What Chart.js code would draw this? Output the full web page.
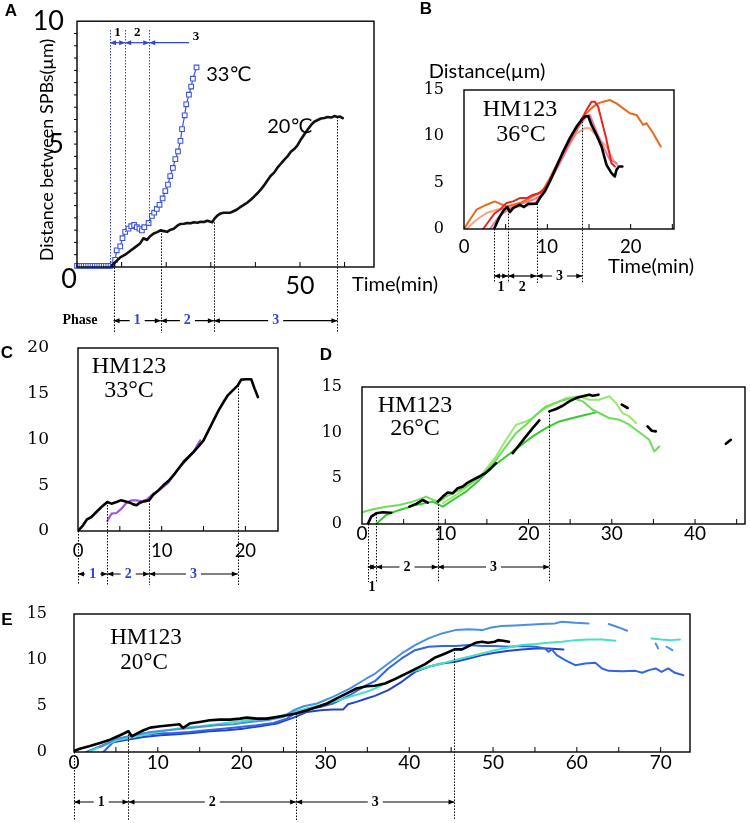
<!DOCTYPE html>
<html>
<head>
<meta charset="utf-8">
<script src="https://cdn.jsdelivr.net/npm/chart.js@4.4.1/dist/chart.umd.min.js"></script>
<style>
body { margin: 0; background: #fff; }
#wrap { position: relative; width: 750px; height: 823px; }
#wrap canvas { position: absolute; left: 0; top: 0; }
</style>
</head>
<body>
<div id="wrap">
  <canvas id="cA" width="750" height="823"></canvas>
  <canvas id="cB" width="750" height="823"></canvas>
  <canvas id="cC" width="750" height="823"></canvas>
  <canvas id="cD" width="750" height="823"></canvas>
  <canvas id="cE" width="750" height="823"></canvas>
</div>
<script>
// ---- panel A : distance between SPBs, 33C vs 20C  [min, um]
var a33 = [[0,0.05],[0.5,0.05],[1,0.05],[1.5,0.05],[2,0.05],[2.5,0.05],[3,0.05],[3.5,0.05],[4,0.05],[4.5,0.05],[5,0.05],[5.5,0.05],[6,0.05],[6.5,0.05],[7,0.05],[7.5,0.05],[8,0.1],
  [8.55,0.29],[8.9,0.68],[9.7,0.84],[10.2,1.17],[10.8,1.43],[11.55,1.56],[12.15,1.66],[12.8,1.71],[13.4,1.62],[14.0,1.56],[14.55,1.49],[15.1,1.62],[16.05,1.79],
  [16.8,2.08],[17.3,2.21],[17.9,2.36],[18.5,2.53],[19.2,2.79],[19.8,3.09],[20.4,3.35],[20.9,3.7],[21.5,4.03],[22.05,4.39],[22.65,4.7],[23.2,5.13],[23.55,5.61],
  [24.15,6.17],[24.5,6.62],[25.1,7.01],[25.6,7.34],[26.0,7.66],[26.8,8.12]];
var a20 = [[7.8,0.06],[8.6,0.2],[9.7,0.39],[10.8,0.5],[11.9,0.65],[13.0,0.8],[14.2,0.97],[14.9,1.17],[15.7,1.1],[16.4,1.25],[17.2,1.36],[18.0,1.42],[18.7,1.49],
  [19.5,1.46],[20.2,1.43],[21.0,1.52],[21.7,1.56],[22.5,1.68],[23.2,1.75],[24.0,1.76],[24.7,1.79],[25.5,1.78],[26.2,1.82],[27.0,1.8],[27.7,1.84],[28.5,1.83],
  [29.2,1.88],[30.3,1.82],[30.9,1.98],[31.4,2.08],[32.2,2.18],[32.9,2.21],[34.4,2.21],[35.2,2.28],[35.9,2.34],[36.7,2.45],[37.4,2.53],[38.2,2.62],[38.9,2.73],
  [39.7,2.86],[40.4,2.99],[41.2,3.15],[41.9,3.31],[42.7,3.52],[43.4,3.7],[44.2,3.84],[44.9,4.03],[45.7,4.2],[46.4,4.35],[47.2,4.5],[47.9,4.68],[48.7,4.8],
  [49.4,4.94],[50.2,5.19],[51.0,5.4],[51.7,5.58],[52.5,5.78],[53.2,5.91],[54.0,5.98],[54.7,6.04],[55.5,6.06],[56.2,6.1],[57.0,6.08],[57.7,6.14],[58.4,6.1],
  [59.0,6.12],[59.6,6.06]];
var aXTicks = [50];
var aYTicks = [5, 10];
var aTop = [7.4, 10.8, 16.2];
var aPhase = [8.2, 18.8, 30.7, 58.4];

// ---- panel B : HM123 36C
var bBlack = [[3.6,0],[4.3,1.36],[4.8,2.08],[5.2,2.37],[5.5,1.83],[5.9,2.26],[6.3,2.44],[6.7,2.62],[7.2,2.37],[7.7,2.73],[8.3,2.73],[8.7,2.73],[9.1,3.34],
  [9.7,4.05],[10.3,5.13],[11.1,6.75],[11.9,8.36],[12.7,9.8],[13.5,11.05],[14.1,11.77],[14.5,12.13],[14.9,12.2],[15.3,11.23],[15.9,10.15],[16.5,8.9],
  [17.1,6.92],[17.7,6.03],[18.1,5.67],[18.3,6.39],[18.6,6.75],[19.0,6.75]];
var bOrange = [[0,0],[0.7,1.0],[1.5,2.08],[2.7,2.62],[3.7,2.98],[4.3,2.73],[5.1,2.44],[5.9,2.62],[6.7,2.8],[7.9,3.34],[8.7,3.7],[9.5,4.23],[10.3,5.49],
  [11.1,6.92],[12.3,8.9],[13.5,10.87],[14.3,12.13],[14.9,12.67],[15.5,13.2],[16.1,13.56],[16.7,13.74],[17.5,13.92],[18.3,13.56],[19.1,13.02],[19.9,12.49],
  [20.7,12.31],[21.5,11.23],[21.9,11.41],[22.7,10.33],[23.6,8.9]];
var bRed = [[2.3,0],[3.1,1.0],[3.7,1.72],[4.3,2.08],[5.1,2.8],[5.9,2.98],[6.7,3.34],[7.5,3.34],[8.3,3.7],[9.1,3.88],[9.9,4.59],[10.7,6.03],[11.5,7.46],
  [12.3,8.9],[13.1,10.33],[13.9,11.41],[14.7,12.85],[15.3,13.74],[15.7,13.74],[16.1,13.2],[16.5,11.77],[17.1,9.62],[17.7,7.1],[18.1,6.75]];
var bPink = [[3.1,0],[3.9,1.0],[4.7,1.72],[5.9,2.44],[7.1,2.8],[8.3,3.16],[9.1,3.52],[10.3,5.13],[11.5,7.1],[12.7,9.26],[13.9,11.23],[14.7,12.13],[15.1,12.31],
  [15.9,10.51],[16.7,8.9],[17.5,7.46],[18.3,7.1]];
var bSalmon = [[0.3,0],[1.5,1.0],[2.7,1.72],[3.9,2.08],[5.1,2.26],[6.7,2.44],[8.3,2.62],[9.5,3.88],[10.7,6.03],[12.3,8.54],[13.5,10.33],[14.5,10.87],[15.1,10.87],
  [16.3,9.62],[17.1,8.9],[17.9,7.46],[18.4,6.92]];
var bXTicks = [0, 10, 20];
var bYTicks = [0, 5, 10, 15];
var bPhase = [3.6, 5.3, 8.7, 14.2];

// ---- panel C : HM123 33C
var cBlack = [[0,0],[0.6,0.62],[1.08,1.28],[1.6,1.53],[2.2,2.08],[2.8,2.62],[3.5,3.17],[4.0,2.99],[4.6,3.17],[5.1,3.35],[5.6,3.24],[6.2,3.1],[6.6,2.91],
  [7.0,2.81],[7.4,3.1],[7.9,3.24],[8.5,3.35],[9.0,3.97],[9.6,4.44],[10.2,4.99],[10.8,5.46],[11.4,6.08],[12.0,6.81],[12.6,7.54],[13.2,8.09],[13.8,8.63],
  [14.4,9.25],[15.0,9.91],[15.6,11.0],[16.2,12.09],[16.8,13.19],[17.4,14.1],[17.9,14.83],[18.5,15.37],[19.1,15.92],[19.5,16.54],[20.1,16.58],[20.7,16.58],
  [21.1,15.56],[21.5,14.64]];
var cPurple = [[3.5,1.09],[4.0,1.89],[4.6,1.97],[5.2,2.44],[5.8,3.1],[6.4,3.35],[7.0,3.35],[7.6,3.24],[8.2,3.42],[9.0,4.08],[9.6,4.37],[10.2,4.81],[10.8,5.28],
  [11.4,6.08],[12.2,6.99],[13.0,7.8],[13.8,8.63],[14.6,9.91]];
var cXTicks = [0, 10, 20];
var cYTicks = [0, 5, 10, 15, 20];
var cPhase = [0, 3.5, 8.5, 19.1];

// ---- panel D : HM123 26C  (null = gap in the trace)
var dBlack = [[0.7,0],[1.1,0.8],[1.7,1.17],[2.5,1.28],[3.5,1.24],[3.6,null],[5.7,1.9],[6.5,2.2],[7.3,2.63],[7.9,2.34],[8.0,null],[9.1,2.45],[9.7,3.0],
  [10.3,3.44],[10.9,3.37],[11.5,3.92],[12.1,4.1],[12.7,4.54],[13.3,4.83],[14.1,5.2],[14.9,5.63],[15.5,6.11],[16.1,6.66],[16.5,null],[18.1,7.76],[18.9,8.67],
  [19.7,9.59],[20.5,10.5],[21.3,11.34],[21.8,null],[22.5,12.33],[23.3,12.59],[24.1,12.95],[24.9,13.43],[25.7,13.79],[26.5,13.98],[27.3,14.16],[27.7,14.05],
  [28.4,14.16],[29,null],[31.2,13.06],[31.9,12.7],[32.5,null],[34.3,10.68],[34.8,10.21],[35.3,10.14],[36,null],[43.7,8.78],[44.3,9.22]];
var dGreen1 = [[0,1.28],[1.3,1.61],[2.9,1.9],[4.5,2.09],[6.1,2.45],[7.7,3.0],[8.5,2.63],[9.3,2.45],[10.1,3.0],[11.3,3.55],[12.5,4.1],[13.7,4.83],[14.9,5.74],
  [16.1,7.03],[17.3,8.49],[18.5,9.95],[19.7,10.87],[20.9,11.96],[22.1,12.88],[23.7,13.43],[25.3,13.79],[26.5,13.43],[27.7,12.51],[28.9,11.96],[29.7,11.6],
  [30.9,11.42],[32.1,10.87],[32.9,10.32],[33.7,9.77],[34.5,9.22],[35.1,7.94],[35.7,8.49]];
var dGreen2 = [[1.7,0],[2.9,0.99],[4.5,1.54],[6.5,2.09],[8.5,2.45],[9.7,1.9],[10.9,2.63],[12.5,3.55],[14.1,4.83],[15.7,6.29],[17.3,7.39],[18.9,8.49],
  [20.5,9.59],[22.1,10.5],[23.7,11.23],[25.3,11.6],[26.9,11.96],[28.1,12.22]];
var dGreen3 = [[9.7,2.27],[11.3,3.18],[12.9,4.28],[14.5,5.56],[16.1,7.39],[17.3,9.22],[18.5,10.87],[19.7,11.23],[20.5,11.6],[21.7,12.51],[22.9,13.06],
  [24.5,13.79],[26.1,13.98],[27.3,13.61],[28.5,13.61],[29.7,13.98],[30.5,13.25],[31.3,12.15],[32.1,11.78],[32.9,11.05]];
var dXTicks = [0, 10, 20, 30, 40];
var dYTicks = [0, 5, 10, 15];
var dPhase = [0.7, 1.7, 9.1, 22.5];

// ---- panel E : HM123 20C
var eBlack = [[0,0.11],[0.7,0.36],[1.9,0.65],[3.1,0.98],[4.3,1.34],[5.5,1.82],[6.5,2.25],[6.9,1.71],[7.5,2.0],[8.3,2.36],[9.1,2.65],[10.3,2.8],[11.5,2.9],
  [12.6,3.01],[13.0,2.61],[13.8,3.09],[15.0,3.27],[16.2,3.45],[17.4,3.52],[18.6,3.52],[19.8,3.63],[20.6,3.74],[21.8,3.63],[23.0,3.63],[24.2,3.81],[25.4,3.99],
  [26.5,4.18],[27.8,4.54],[29.0,4.9],[30.2,5.27],[31.3,5.81],[32.5,6.35],[33.7,6.9],[34.9,7.15],[35.9,7.2],[37.1,7.44],[38.3,7.92],[39.5,8.46],[40.7,9.0],
  [41.9,9.55],[43.1,10.28],[44.3,10.71],[45.4,11.15],[46.3,11.15],[47.1,11.51],[47.9,11.87],[48.7,11.98],[49.4,11.87],[50.2,11.98],[50.6,12.16],[51.2,12.09],
  [51.9,11.98]];
var eLight = [[3.1,0.54],[5.1,1.45],[7.1,1.82],[9.1,2.18],[11.1,2.36],[13.0,2.54],[15.0,2.72],[17.0,2.9],[19.0,3.01],[21.0,3.27],[23.0,3.45],[25.0,3.81],
  [26.2,4.54],[27.4,4.97],[29.0,5.27],[30.9,5.99],[32.9,6.9],[34.9,7.99],[35.9,8.5],[37.5,9.62],[39.1,10.71],[40.7,11.62],[42.3,12.35],[43.9,12.89],
  [45.5,13.25],[47.1,13.33],[48.7,13.25],[49.8,13.54],[51.0,13.69],[52.6,13.76],[54.2,13.83],[55.8,13.91],[57.4,13.98],[58.2,14.16],[59.8,14.05],[61.4,13.98],
  [62.5,null],[63.8,13.91],[65.0,13.54],[66.0,13.18],[67,null],[69.4,11.8],[69.7,11.26],[70.2,null],[70.7,11.44],[71.4,11.07]];
var eMid = [[3.5,0],[4.7,1.09],[6.3,1.63],[7.9,1.82],[9.9,2.0],[11.9,2.07],[13.8,2.18],[15.8,2.36],[17.8,2.54],[19.8,2.72],[21.8,2.9],[23.8,3.16],[25.4,3.63],
  [26.6,4.36],[27.8,4.72],[29.4,4.9],[30.9,5.27],[32.9,6.17],[34.9,7.26],[35.9,7.7],[37.5,9.08],[39.1,10.17],[40.7,11.07],[42.3,11.44],[43.9,11.51],
  [45.5,11.51],[47.1,11.62],[48.7,11.51],[50.2,11.51],[51.9,11.44],[53.4,11.51],[55.1,11.44],[56.2,11.26],[56.6,10.89],[57.0,11.15],[57.6,10.53],[58.6,9.99],
  [59.8,9.44],[61.0,9.62],[62.2,9.69],[63.0,9.08],[63.8,8.82],[65.4,8.79],[67.0,8.82],[67.8,8.61],[68.6,8.9],[69.4,9.08],[70.1,8.71],[70.9,9.08],[71.7,8.61],
  [72.7,8.35]];
var eDark = [[1.5,0],[3.9,0.91],[6.3,1.34],[8.3,1.63],[10.3,1.82],[12.3,1.92],[14.2,2.07],[16.2,2.25],[18.2,2.36],[20.2,2.54],[22.2,2.8],[24.2,3.09],[26.2,3.74],
  [27.8,4.36],[29.4,4.54],[30.9,4.61],[32.1,4.61],[32.7,5.19],[33.7,5.45],[34.9,5.81],[35.9,6.1],[37.5,6.72],[39.1,7.63],[40.7,8.71],[42.3,9.26],[43.9,9.62],
  [45.5,9.8],[47.1,10.17],[48.7,10.53],[50.2,10.78],[51.9,11.0],[53.4,11.15],[55.1,11.26],[56.6,11.26],[58.4,11.15]];
var eCyan = [[1.7,0],[3.1,0.54],[5.1,1.27],[7.1,1.63],[9.1,2.0],[11.1,2.36],[13.0,2.65],[15.0,2.8],[17.0,3.01],[19.0,3.27],[21.0,3.45],[23.0,3.63],[25.0,3.99],
  [26.2,4.36],[27.8,4.72],[29.4,5.08],[30.9,5.45],[32.9,5.99],[34.9,6.54],[35.9,6.9],[37.5,7.63],[39.1,8.35],[40.7,8.82],[42.3,9.26],[43.9,9.62],[45.5,9.99],
  [47.1,10.35],[48.7,10.71],[50.2,11.07],[51.9,11.37],[53.4,11.62],[55.1,11.73],[56.6,11.87],[58.2,11.98],[59.8,12.16],[61.4,12.24],[63.0,12.24],[64.6,12.09],
  [66,null],[68.9,12.35],[70.1,12.24],[71.3,12.16],[72.3,12.24]];
var eXTicks = [0, 10, 20, 30, 40, 50, 60, 70];
var eYTicks = [0, 5, 10, 15];
var ePhase = [0, 6.5, 26.5, 45.4];

var SERIF = '"Liberation Serif", "Times New Roman", serif';
var DSERIF = '"DejaVu Serif", serif';
var SANS = 'Lato, "DejaVu Sans", sans-serif';
var LETTER = 'bold 17px "Liberation Sans", Arial, sans-serif';
var PH = 'bold 14px ' + SERIF;
var BLUE = '#2f45d4';

function pts(a) {
    return a.map(function (p) { return { x: p[0], y: p[1] }; });
}

function ln(a, color, w) {
    return { data: pts(a), borderColor: color, borderWidth: w || 2, pointRadius: 0, fill: false };
}

function head(ctx, x, y, dir) {
    ctx.beginPath();
    ctx.moveTo(x, y);
    ctx.lineTo(x - dir * 6, y - 2.5);
    ctx.lineTo(x - dir * 6, y + 2.5);
    ctx.closePath();
    ctx.fill();
}

// box, inner ticks, dotted phase lines, arrows and labels
var decoPlugin = {
    id: 'deco',
    afterDraw: function (chart, args, o) {
        var ctx = chart.ctx, a = chart.chartArea;
        var sx = chart.scales.x, sy = chart.scales.y;
        var X = function (v) { return sx.getPixelForValue(v); };
        var Y = function (v) { return sy.getPixelForValue(v); };
        ctx.save();
        ctx.setLineDash([]);
        ctx.strokeStyle = '#000';
        ctx.lineWidth = 1.4;
        ctx.strokeRect(a.left, a.top, a.right - a.left, a.bottom - a.top);

        ctx.lineWidth = 1;
        ctx.beginPath();
        for (var v = o.xStep; v < sx.max; v += o.xStep) {
            ctx.moveTo(X(v), a.bottom);
            ctx.lineTo(X(v), a.bottom - 5);
        }
        if (o.yStep) {
            for (var w = o.yStep; w < sy.max; w += o.yStep) {
                ctx.moveTo(a.left, Y(w));
                ctx.lineTo(a.left - 3, Y(w));
            }
        }
        ctx.stroke();

        // dotted lines: y0/y1 in px, or v0/v1 as data values
        ctx.setLineDash([1.5, 1.5]);
        (o.vlines || []).forEach(function (l) {
            var px = Math.round(X(l.x)) + 0.5;
            ctx.strokeStyle = l.c || '#000';
            ctx.beginPath();
            ctx.moveTo(px, l.y0 != null ? l.y0 : Y(l.v0));
            ctx.lineTo(px, l.y1 != null ? l.y1 : Y(l.v1));
            ctx.stroke();
        });
        ctx.setLineDash([]);

        (o.arrows || []).forEach(function (r) {
            var x1 = X(r.x1), x2 = r.x2px != null ? r.x2px : X(r.x2);
            ctx.font = r.font || PH;
            var tw = ctx.measureText(r.t).width + 8, m = (x1 + x2) / 2;
            ctx.strokeStyle = r.c || '#000';
            ctx.fillStyle = r.c || '#000';
            ctx.lineWidth = 1.2;
            ctx.beginPath();
            if (r.pos === 'in') {
                ctx.moveTo(x1, r.y); ctx.lineTo(m - tw / 2, r.y);
                ctx.moveTo(m + tw / 2, r.y); ctx.lineTo(x2, r.y);
            } else {
                ctx.moveTo(x1, r.y); ctx.lineTo(x2, r.y);
            }
            ctx.stroke();
            head(ctx, x1, r.y, -1);
            if (r.heads !== 'left') head(ctx, x2, r.y, 1);
            ctx.fillStyle = r.tc || r.c || '#000';
            ctx.textAlign = 'center';
            ctx.textBaseline = 'middle';
            var tx = r.tx != null ? r.tx : m;
            var ty = r.ty != null ? r.ty : (r.pos === 'in' ? r.y : r.y + r.dy);
            ctx.fillText(r.t, tx, ty);
        });

        (o.texts || []).forEach(function (t) {
            ctx.font = t.f;
            ctx.fillStyle = t.c || '#000';
            ctx.textAlign = t.a || 'center';
            ctx.textBaseline = 'middle';
            if (t.rot) {
                ctx.save();
                ctx.translate(t.x, t.y);
                ctx.rotate(t.rot);
                ctx.fillText(t.t, 0, 0, t.mw);
                ctx.restore();
            } else if (t.mw) {
                ctx.fillText(t.t, t.x, t.y, t.mw);
            } else {
                ctx.fillText(t.t, t.x, t.y);
            }
        });
        ctx.restore();
    }
};

function phaseArrows(bounds, y, labels, lblColor, pos) {
    var out = [];
    for (var i = 0; i < 3; i++) {
        out.push({ x1: bounds[i], x2: bounds[i + 1], y: y, t: labels[i], pos: pos[i] || 'in', dy: 11, tc: lblColor });
    }
    return out;
}

// box = [left, right, top, bottom] of the plot frame; yW / xH = room kept for tick labels
function painel(id, box, xMax, yMax, xTicks, yTicks, xFont, yFont, xPad, yPad, datasets, deco) {
    var yW = Math.min(60, box[0] - 2), xH = 40;
    new Chart(document.getElementById(id), {
        type: 'line',
        data: { datasets: datasets },
        options: {
            responsive: false,
            animation: false,
            devicePixelRatio: 1,
            events: [],
            layout: { padding: { left: box[0] - yW, right: 750 - box[1], top: box[2], bottom: 823 - box[3] - xH } },
            elements: { point: { radius: 0 }, line: { tension: 0, borderJoinStyle: 'round', borderCapStyle: 'round' } },
            plugins: { legend: { display: false }, tooltip: { enabled: false }, deco: deco },
            scales: {
                x: {
                    type: 'linear', min: 0, max: xMax,
                    grid: { display: false }, border: { display: false },
                    afterBuildTicks: function (s) { s.ticks = xTicks.map(function (v) { return { value: v }; }); },
                    afterFit: function (s) { s.height = xH; },
                    ticks: { font: xFont, color: '#000', padding: xPad, maxRotation: 0, autoSkip: false }
                },
                y: {
                    type: 'linear', min: 0, max: yMax,
                    grid: { display: false }, border: { display: false },
                    afterBuildTicks: function (s) { s.ticks = yTicks.map(function (v) { return { value: v }; }); },
                    afterFit: function (s) { s.width = yW; },
                    ticks: { font: yFont, color: '#000', padding: yPad, autoSkip: false }
                }
            }
        },
        plugins: [decoPlugin]
    });
}

// A
painel('cA', [77, 374, 11, 267], 66.6, 10, aXTicks, aYTicks,
    { family: SANS, size: 25 }, { family: SANS, size: 27 }, -4, 5,
    [
        ln(a20, '#111', 2.6),
        { data: pts(a33), borderColor: '#3d55dd', borderWidth: 1.2, pointStyle: 'rect', pointRadius: 3.3,
          pointBorderColor: '#3d55dd', pointBackgroundColor: '#fff', pointBorderWidth: 1.1, clip: false }
    ],
    {
        xStep: 10, yStep: 0.5,
        vlines: [
            { x: aTop[0], y0: 30, v1: 0, c: BLUE }, { x: aTop[1], y0: 30, v1: 1.43, c: BLUE },
            { x: aTop[2], y0: 30, v1: 1.79, c: BLUE },
            { x: aPhase[0], v0: 0.1, y1: 333 }, { x: aPhase[1], v0: 1.49, y1: 333 },
            { x: aPhase[2], v0: 1.82, y1: 333 }, { x: aPhase[3], v0: 6.1, y1: 333 }
        ],
        arrows: phaseArrows(aPhase, 320.7, ['1', '2', '3'], BLUE, []).concat([
            { x1: aTop[0], x2: aTop[1], y: 42.7, t: '1', pos: 'above', ty: 33, c: BLUE, tc: '#000', font: 'bold 13px ' + SERIF },
            { x1: aTop[1], x2: aTop[2], y: 42.7, t: '2', pos: 'above', ty: 33, c: BLUE, tc: '#000', font: 'bold 13px ' + SERIF },
            { x1: aTop[2], x2px: 189, y: 42.7, t: '3', heads: 'left', tx: 196, ty: 37, c: BLUE, tc: '#000', font: 'bold 13px ' + SERIF }
        ]),
        texts: [
            { t: 'A', x: 11, y: 11, f: LETTER },
            { t: '33℃', x: 229, y: 75, f: '20px ' + SANS },
            { t: '20℃', x: 290, y: 127, f: '20px ' + SANS },
            { t: '0', x: 69, y: 279, f: '27px ' + SANS },
            { t: 'Time(min)', x: 395, y: 285, f: '20px ' + SANS, mw: 92 },
            { t: 'Distance between SPBs(µm)', x: 47, y: 150, f: '18px ' + SANS, rot: -Math.PI / 2, mw: 236 },
            { t: 'Phase', x: 80, y: 320, f: PH }
        ]
    });

// B
painel('cB', [464, 674, 90, 229], 25.2, 15, bXTicks, bYTicks,
    { family: SANS, size: 18.5 }, { family: DSERIF, size: 16 }, -1, 12,
    [ln(bBlack, '#000', 2.6), ln(bRed, '#e8261c', 2), ln(bOrange, '#e8691e', 2), ln(bPink, '#e9789e', 2), ln(bSalmon, '#f5a58a', 2)],
    {
        xStep: 5,
        vlines: [
            { x: bPhase[0], v0: 0, y1: 283 }, { x: bPhase[1], v0: 2.3, y1: 283 },
            { x: bPhase[2], v0: 2.75, y1: 283 }, { x: bPhase[3], v0: 11.9, y1: 283 }
        ],
        arrows: phaseArrows(bPhase, 276, ['1', '2', '3'], '#000', ['below', 'below', 'in']),
        texts: [
            { t: 'B', x: 426, y: 9, f: LETTER },
            { t: 'Distance(µm)', x: 487, y: 72, f: '20px ' + SANS, mw: 122 },
            { t: 'Time(min)', x: 651, y: 267, f: '20px ' + SANS, mw: 90 },
            { t: 'HM123', x: 520, y: 110, f: '24px ' + SERIF },
            { t: '36°C', x: 521, y: 135, f: '24px ' + SERIF }
        ]
    });

// C
painel('cC', [78, 278, 348, 531], 23.9, 20, cXTicks, cYTicks,
    { family: SANS, size: 18.5 }, { family: DSERIF, size: 17 }, 1, 21,
    [ln(cBlack, '#000', 2.6), ln(cPurple, '#9a5ad6', 2.2)],
    {
        xStep: 5,
        vlines: [
            { x: cPhase[0], v0: 0, y1: 585 }, { x: cPhase[1], v0: 3.17, y1: 585 },
            { x: cPhase[2], v0: 3.35, y1: 585 }, { x: cPhase[3], v0: 15.9, y1: 585 }
        ],
        arrows: phaseArrows(cPhase, 574, ['1', '2', '3'], BLUE, []),
        texts: [
            { t: 'C', x: 7, y: 353, f: LETTER },
            { t: 'HM123', x: 129, y: 367, f: '24px ' + SERIF },
            { t: '33°C', x: 129, y: 391, f: '24px ' + SERIF }
        ]
    });

// D
painel('cD', [362, 745, 387, 524], 46, 15, dXTicks, dYTicks,
    { family: SANS, size: 19 }, { family: DSERIF, size: 16 }, -10, 12,
    [ln(dBlack, '#000', 2.6), ln(dGreen1, '#6fdc5a', 2), ln(dGreen2, '#35c935', 2), ln(dGreen3, '#9ae870', 2)],
    {
        xStep: 5,
        vlines: [
            { x: dPhase[0], v0: 0, y1: 582 }, { x: dPhase[1], v0: 1.1, y1: 582 },
            { x: dPhase[2], v0: 2.45, y1: 582 }, { x: dPhase[3], v0: 12.3, y1: 582 }
        ],
        arrows: phaseArrows(dPhase, 567, ['1', '2', '3'], '#000', ['below']).map(function (r, i) {
            if (i === 0) { r.dy = 20; }
            return r;
        }),
        texts: [
            { t: 'D', x: 326, y: 355, f: LETTER },
            { t: 'HM123', x: 415, y: 406, f: '24px ' + SERIF },
            { t: '26°C', x: 415, y: 429, f: '24px ' + SERIF }
        ]
    });

// E
painel('cE', [74, 690, 614, 752], 73.5, 15, eXTicks, eYTicks,
    { family: SANS, size: 19 }, { family: DSERIF, size: 16 }, -9, 19,
    [ln(eBlack, '#000', 2.6), ln(eLight, '#4a8fe6', 2), ln(eCyan, '#44e2c2', 2), ln(eMid, '#3266de', 2), ln(eDark, '#2442cf', 2)],
    {
        xStep: 5,
        vlines: [
            { x: ePhase[0], v0: 0, y1: 820 }, { x: ePhase[1], v0: 2.25, y1: 820 },
            { x: ePhase[2], v0: 4.18, y1: 820 }, { x: ePhase[3], v0: 11.15, y1: 820 }
        ],
        arrows: phaseArrows(ePhase, 802, ['1', '2', '3'], '#000', []),
        texts: [
            { t: 'E', x: 7, y: 620, f: LETTER },
            { t: 'HM123', x: 146, y: 638, f: '23px ' + SERIF },
            { t: '20°C', x: 144, y: 663, f: '23px ' + SERIF }
        ]
    });
</script>
</body>
</html>
